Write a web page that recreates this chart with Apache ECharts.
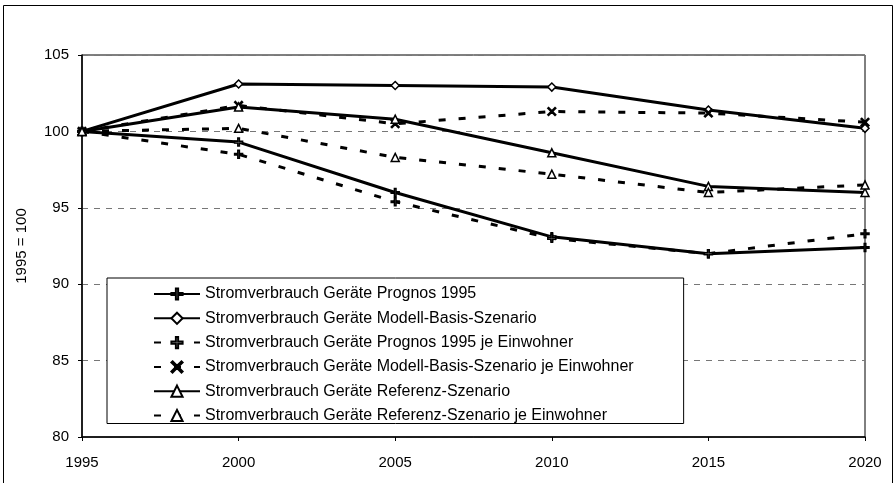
<!DOCTYPE html>
<html>
<head>
<meta charset="utf-8">
<script src="https://cdn.jsdelivr.net/npm/echarts@6/dist/echarts.min.js"></script>
<style>
  html, body { margin: 0; padding: 0; background: #fff; }
  #chart { width: 894px; height: 483px; }
</style>
</head>
<body>
<div id="chart"></div>
<script>
// data (index, 1995 = 100)
const years = [1995, 2000, 2005, 2010, 2015, 2020];
const prognos = [100, 99.3, 96.0, 93.1, 92.0, 92.4];
const modellBasis = [100, 103.1, 103.0, 102.9, 101.4, 100.2];
const prognosEinw = [100, 98.5, 95.4, 93.0, 92.0, 93.3];
const modellBasisEinw = [100, 101.7, 100.5, 101.3, 101.2, 100.6];
const referenz = [100, 101.6, 100.8, 98.6, 96.4, 96.0];
const referenzEinw = [100, 100.2, 98.3, 97.2, 96.0, 96.5];

const names = [
  'Stromverbrauch Geräte Prognos 1995',
  'Stromverbrauch Geräte Modell-Basis-Szenario',
  'Stromverbrauch Geräte Prognos 1995 je Einwohner',
  'Stromverbrauch Geräte Modell-Basis-Szenario je Einwohner',
  'Stromverbrauch Geräte Referenz-Szenario',
  'Stromverbrauch Geräte Referenz-Szenario je Einwohner'
];

const plusPath = 'path://M4,0H6V4H10V6H6V10H4V6H0V4H4Z';
const crossPath = 'path://M1,0L5,4L9,0L10,1L6,5L10,9L9,10L5,6L1,10L0,9L4,5L0,1Z';

function makeSeries(name, values, dashed, symbol) {
  return {
    name: name,
    type: 'line',
    data: values.map((v, i) => [years[i], v]),
    symbol: symbol,
    symbolSize: 8,
    itemStyle: { color: '#fff', borderColor: '#000', borderWidth: 1.5 },
    lineStyle: { color: '#000', width: 3, type: dashed ? [7, 13] : 'solid' },
    color: '#000',
    emphasis: { disabled: true }
  };
}

const chart = echarts.init(document.getElementById('chart'));
chart.setOption({
  animation: false,
  textStyle: { fontFamily: 'Liberation Sans, Arial, sans-serif', color: '#000' },
  graphic: [{
    type: 'rect',
    shape: { x: 3.5, y: 5.5, width: 889, height: 490 },
    style: { fill: 'none', stroke: '#000', lineWidth: 1 },
    silent: true
  }],
  grid: {
    left: 82, right: 29, top: 55, bottom: 46,
    show: true, borderColor: '#000', borderWidth: 1
  },
  legend: {
    orient: 'vertical',
    left: 107, top: 278,
    padding: [8, 50, 0, 46],
    itemWidth: 46, itemHeight: 14, itemGap: 8.3,
    backgroundColor: '#fff',
    borderColor: '#000', borderWidth: 1,
    textStyle: { fontSize: 16, color: '#000', fontFamily: 'Liberation Sans, Arial, sans-serif' },
    data: names
  },
  xAxis: {
    type: 'value',
    min: 1995, max: 2020, interval: 5,
    axisLine: { lineStyle: { color: '#000', width: 1.5 } },
    axisTick: { show: true, length: 4, lineStyle: { color: '#000' } },
    axisLabel: { fontSize: 15, color: '#000', margin: 18, formatter: v => String(v) },
    splitLine: { show: false }
  },
  yAxis: {
    type: 'value',
    min: 80, max: 105, interval: 5,
    name: '1995 = 100',
    nameLocation: 'middle',
    nameRotate: 90,
    nameGap: 53,
    nameTextStyle: { fontSize: 15, color: '#000' },
    axisLine: { show: true, lineStyle: { color: '#000', width: 1.5 } },
    axisTick: { show: true, length: 4, lineStyle: { color: '#000' } },
    axisLabel: { fontSize: 15, color: '#000', margin: 13 },
    splitLine: { show: true, lineStyle: { color: '#777', width: 1, type: [6, 6] } }
  },
  series: [
    makeSeries(names[0], prognos, false, plusPath),
    makeSeries(names[1], modellBasis, false, 'diamond'),
    makeSeries(names[2], prognosEinw, true, plusPath),
    makeSeries(names[3], modellBasisEinw, true, crossPath),
    makeSeries(names[4], referenz, false, 'triangle'),
    makeSeries(names[5], referenzEinw, true, 'triangle')
  ]
});
</script>
</body>
</html>
